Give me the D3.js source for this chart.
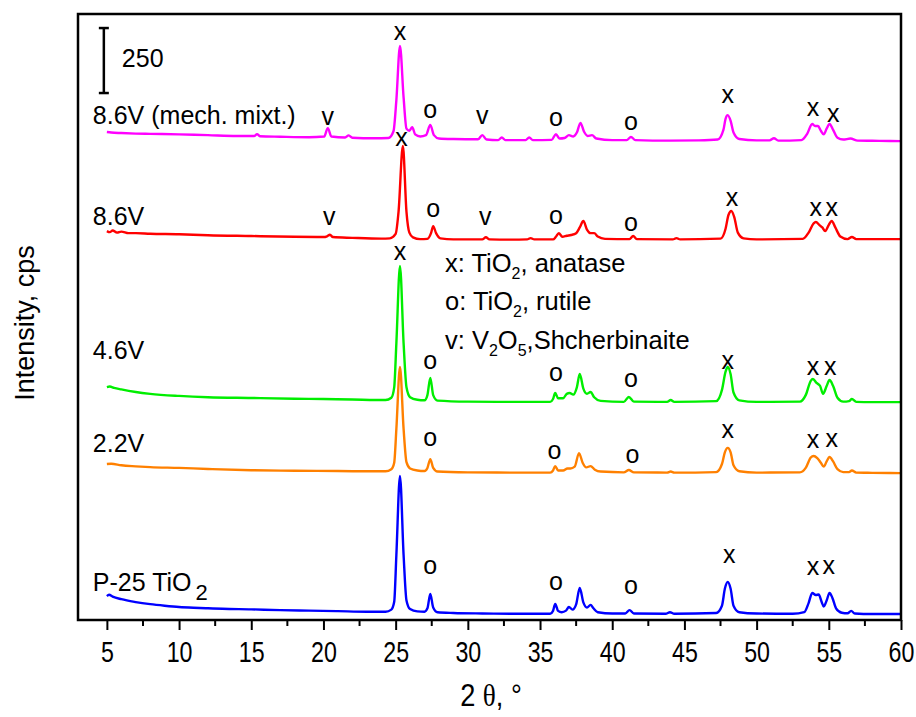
<!DOCTYPE html>
<html>
<head>
<meta charset="utf-8">
<script src="https://cdn.jsdelivr.net/npm/d3@7"></script>
<style>
  body { margin: 0; background: #fff; }
  text { font-family: Arial, "Liberation Sans", sans-serif; fill: #000; }
</style>
</head>
<body>
<div id="chart"></div>
<script>
// XRD patterns, stacked. Each trace: [2theta, intensity above its own offset (cps)]
var sampleNames = ["P-25 TiO", "2.2V", "4.6V", "8.6V", "8.6V (mech. mixt.)"]
var sampleOffsets = [0, 545, 815, 1440, 1820]
// where the sample name sits (cps, absolute)
var sampleNameLevels = [146, 681, 1038, 1554, 1942]

var xTicks = [5, 10, 15, 20, 25, 30, 35, 40, 45, 50, 55, 60]
var xMinorTicks = [7.5, 12.5, 17.5, 22.5, 27.5, 32.5, 37.5, 42.5, 47.5, 52.5, 57.5]

var traceP25 = [[5.0,92],[5.15,97],[5.4,90],[6,80],[7,69],[8,61],[9,55],[10,50],[11,47],[12,45],[13,43],[15,41],[17,38],[19,36],[21,34],[23,32],[24.3,32],[24.7,40],[24.9,70],[25.05,250],[25.3,554],[25.55,250],[25.75,75],[26,42],[26.5,33],[27.0,32],[27.2,45],[27.4,100],[27.6,48],[27.9,30],[29,27],[31,25],[33,24],[35.7,24],[35.9,35],[36.05,62],[36.25,35],[36.5,30],[36.8,36],[37.0,50],[37.25,40],[37.5,60],[37.75,123],[38.0,68],[38.25,48],[38.5,58],[38.7,45],[39.0,30],[40,25],[40.9,25],[41.2,38],[41.5,25],[43.7,24],[44.0,30],[44.3,24],[47.2,27],[47.6,55],[47.8,120],[48.0,146],[48.2,120],[48.4,55],[48.8,30],[50,25],[52.5,24],[53.3,30],[53.6,65],[53.85,104],[54.1,96],[54.3,98],[54.5,70],[54.65,52],[54.85,75],[55.05,104],[55.25,85],[55.5,45],[55.9,28],[56.3,26],[56.55,35],[56.8,25],[58,23],[60,23]]

var trace22V = [[5.0,55],[5.3,56],[6,50],[7,46],[8,43],[10,40],[12,36],[15,31],[18,29],[21,28],[23,27],[24.3,27],[24.7,35],[24.9,60],[25.05,190],[25.3,428],[25.55,190],[25.75,62],[26,38],[26.5,30],[27.0,28],[27.2,40],[27.4,74],[27.6,40],[27.9,26],[30,23],[33,22],[35.7,22],[35.9,30],[36.05,47],[36.25,30],[36.6,30],[36.9,38],[37.1,38],[37.4,45],[37.7,97],[37.95,60],[38.2,42],[38.5,47],[38.8,33],[39.2,26],[40.8,23],[41.15,32],[41.5,23],[43.8,22],[44.05,26],[44.3,22],[47.2,24],[47.6,55],[47.8,100],[48.0,117],[48.2,100],[48.4,50],[48.8,27],[50,22],[53.0,23],[53.4,40],[53.75,80],[53.95,86],[54.2,78],[54.45,60],[54.65,45],[54.85,65],[55.05,82],[55.3,65],[55.6,35],[56.0,24],[56.4,24],[56.6,30],[56.9,22],[58,21],[60,20]]

var trace46V = [[5.0,81],[5.2,83],[5.5,78],[6,72],[7,62],[8,55],[10,47],[12,42],[15,39],[18,36],[20,35],[22,33],[24.3,31],[24.7,40],[24.9,80],[25.05,250],[25.3,547],[25.55,250],[25.75,80],[26,42],[26.5,32],[27.0,30],[27.2,50],[27.4,116],[27.6,50],[27.9,29],[30,25],[33,24],[35.7,24],[35.9,35],[36.05,58],[36.25,38],[36.6,38],[36.85,55],[37.05,58],[37.3,52],[37.55,80],[37.75,131],[38.0,75],[38.25,55],[38.5,62],[38.75,42],[39.2,28],[40.8,24],[41.15,43],[41.5,25],[43.8,24],[44.05,31],[44.3,24],[47.2,27],[47.6,70],[47.85,140],[48.0,158],[48.2,130],[48.4,60],[48.8,30],[50,24],[53.0,25],[53.4,50],[53.75,105],[53.9,112],[54.15,97],[54.4,85],[54.6,55],[54.85,85],[55.05,108],[55.3,85],[55.6,40],[56.0,25],[56.4,27],[56.6,35],[56.9,24],[58,23],[60,23]]

var trace86V = [[5.0,56],[5.2,52],[5.4,58],[5.7,50],[6,54],[6.5,48],[7,48],[8,46],[10,44],[12,40],[15,37],[18,34],[20.0,33],[20.25,36],[20.45,42],[20.65,33],[22,30],[24,27],[24.6,28],[25.0,45],[25.2,130],[25.5,383],[25.75,130],[25.95,50],[26.2,32],[26.7,25],[27.2,26],[27.45,48],[27.6,75],[27.8,48],[28.1,28],[29,24],[31.0,24],[31.25,32],[31.5,24],[33,23],[34.1,24],[34.35,29],[34.6,24],[35.9,24],[36.1,34],[36.3,48],[36.55,34],[36.85,38],[37.15,41],[37.5,48],[37.75,70],[38.0,95],[38.25,62],[38.5,48],[38.75,48],[39.0,35],[39.5,26],[41.2,25],[41.45,37],[41.7,25],[44.2,24],[44.45,29],[44.7,24],[47.5,27],[47.85,65],[48.05,118],[48.25,133],[48.45,110],[48.7,50],[49.1,28],[50,24],[53.2,26],[53.6,50],[53.95,86],[54.1,91],[54.35,79],[54.55,70],[54.75,56],[55.0,80],[55.2,95],[55.45,70],[55.8,35],[56.3,25],[56.6,33],[56.9,25],[58,25],[60,25]]

var trace86Vmix = [[5.0,57],[5.3,55],[6,53],[7,51],[8,50],[10,48],[12,45],[14,42],[15.2,42],[15.4,49],[15.6,41],[17,39],[19,37],[20.05,40],[20.3,72],[20.55,40],[21.5,36],[21.75,44],[22.0,35],[23.5,33],[24.5,34],[24.85,60],[25.05,180],[25.3,388],[25.55,190],[25.75,70],[25.95,62],[26.15,76],[26.35,48],[26.7,40],[27.1,45],[27.4,84],[27.65,45],[28,32],[29,30],[30.7,29],[31.0,45],[31.3,28],[32.1,26],[32.35,36],[32.6,26],[34.0,26],[34.25,36],[34.5,26],[35.8,27],[36.1,49],[36.35,32],[36.7,34],[37.0,45],[37.3,40],[37.55,55],[37.8,92],[38.05,58],[38.3,42],[38.6,45],[38.9,32],[40,26],[41.0,26],[41.3,38],[41.6,26],[44,24],[46,25],[47.3,28],[47.7,65],[47.85,108],[48.0,122],[48.2,100],[48.4,55],[48.8,30],[50,25],[50.9,25],[51.2,33],[51.5,24],[53.1,26],[53.5,50],[53.85,88],[54.05,80],[54.25,80],[54.45,62],[54.65,48],[54.85,70],[55.05,88],[55.3,65],[55.6,35],[56.0,28],[56.5,32],[57,24],[58.5,23],[60,22]]

var traces = [traceP25, trace22V, trace46V, trace86V, trace86Vmix]

// phase marks: [symbol, 2theta, cps (absolute)]
var marksP25 = [["o",27.4,208],["o",36.1,146],["o",41.3,131],["x",48.1,250],["x",53.9,204],["x",55.0,208]]
var marks22V = [["o",27.4,700],["o",36.0,650],["o",41.4,635],["x",48.0,731],["x",53.9,692],["x",55.2,696]]
var marks46V = [["x",25.3,1415],["o",27.4,996],["o",36.1,950],["o",41.3,927],["x",48.0,996],["x",53.9,973],["x",55.1,973]]
var marks86V = [["x",25.4,1854],["v",20.4,1550],["o",27.6,1581],["v",31.2,1550],["o",36.1,1554],["o",41.3,1527],["x",48.3,1623],["x",54.1,1585],["x",55.2,1585]]
var marks86Vmix = [["v",20.3,1935],["x",25.3,2262],["o",27.4,1962],["v",31.0,1938],["o",36.1,1931],["o",41.3,1915],["x",48.0,2019],["x",53.9,1969],["x",55.3,1946]]
var allMarks = [marksP25, marks22V, marks46V, marks86V, marks86Vmix]

// phase key: [symbol, formula parts, name]
var phaseKey = [
  ["x: ", [["Ti", false], ["O", false], ["2", true]], ", anatase"],
  ["o: ", [["Ti", false], ["O", false], ["2", true]], ", rutile"],
  ["v: ", [["V", false], ["2", true], ["O", false], ["5", true]], ",Shcherbinaite"]
]

var scaleBarValue = 250

;(function() {
  var width = 916, height = 717
  var plotLeft = 78, plotRight = 901, plotTop = 14, plotBottom = 620

  var svg = d3.select("#chart")
    .append("svg")
    .attr("width", width)
    .attr("height", height)

  var xPositionScale = d3.scaleLinear()
    .domain([3, 60])
    .range([plotLeft, plotRight])

  var yPositionScale = d3.scaleLinear()
    .domain([0, 2331])
    .range([plotBottom, plotTop])

  var colorScale = d3.scaleOrdinal()
    .domain(d3.range(5))
    .range(["#0000ff", "#ff8000", "#00ee00", "#ff0000", "#ff00ff"])

  // traces
  traces.forEach(function(trace, i) {
    var line = d3.line()
      .x(function(d) { return xPositionScale(d[0]) })
      .y(function(d) { return yPositionScale(d[1] + sampleOffsets[i]) })
      .curve(d3.curveMonotoneX)

    svg.append("path")
      .datum(trace)
      .attr("d", line)
      .attr("fill", "none")
      .attr("stroke", colorScale(i))
      .attr("stroke-width", 2.4)
      .attr("stroke-linejoin", "round")
  })

  // phase marks above the peaks
  allMarks.forEach(function(marks) {
    svg.selectAll(null)
      .data(marks)
      .enter().append("text")
      .attr("x", function(d) { return xPositionScale(d[1]) })
      .attr("y", function(d) { return yPositionScale(d[2]) })
      .attr("dy", "0.33em")
      .attr("text-anchor", "middle")
      .attr("font-size", 25)
      .text(function(d) { return d[0] })
  })

  // sample names
  sampleNames.forEach(function(name, i) {
    var label = svg.append("text")
      .attr("x", xPositionScale(4.03))
      .attr("y", yPositionScale(sampleNameLevels[i]))
      .attr("dy", "0.36em")
      .attr("font-size", 25)
      .text(name)
    if (i === 0) {
      label.append("tspan")
        .attr("dx", 4)
        .attr("dy", 9)
        .attr("font-size", 22)
        .text("2")
    }
  })

  // phase key
  var keyLevels = [1372, 1229, 1077]
  phaseKey.forEach(function(row, i) {
    var t = svg.append("text")
      .attr("x", 445)
      .attr("y", yPositionScale(keyLevels[i]))
      .attr("dy", "0.36em")
      .attr("font-size", 25.5)
    t.append("tspan").text(row[0])
    var shifted = false
    row[1].forEach(function(part) {
      var sp = t.append("tspan").text(part[0])
      if (part[1] && !shifted) {
        sp.attr("dy", 7).attr("font-size", 16)
        shifted = true
      } else if (!part[1] && shifted) {
        sp.attr("dy", -7)
        shifted = false
      } else if (part[1]) {
        sp.attr("font-size", 16)
      }
    })
    var tail = t.append("tspan").text(row[2])
    if (shifted) tail.attr("dy", -7)
  })

  // scale bar, 250 cps
  var barTop = 2277
  var barX = xPositionScale(4.79)
  var bar = svg.append("g")
  bar.append("line")
    .attr("x1", barX).attr("x2", barX)
    .attr("y1", yPositionScale(barTop)).attr("y2", yPositionScale(barTop - scaleBarValue))
    .attr("stroke", "#000").attr("stroke-width", 2.5)
  ;[barTop, barTop - scaleBarValue].forEach(function(v) {
    bar.append("line")
      .attr("x1", barX - 5).attr("x2", barX + 5)
      .attr("y1", yPositionScale(v)).attr("y2", yPositionScale(v))
      .attr("stroke", "#000").attr("stroke-width", 2.5)
  })
  bar.append("text")
    .attr("x", barX + 18)
    .attr("y", yPositionScale(barTop - scaleBarValue / 2) - 3)
    .attr("dy", "0.36em")
    .attr("font-size", 25)
    .text(String(scaleBarValue))

  // x axis, major and minor ticks
  var xAxis = d3.axisBottom(xPositionScale)
    .tickValues(xTicks)
    .tickSize(10)
    .tickPadding(10)
    .tickFormat(d3.format("d"))

  var axisG = svg.append("g")
    .attr("transform", "translate(0," + plotBottom + ")")
    .call(xAxis)
  axisG.select(".domain").remove()
  axisG.selectAll(".tick line").attr("stroke-width", 2)
  // narrow-looking tick labels: squeeze horizontally
  axisG.selectAll(".tick text")
    .attr("font-size", 29)
    .attr("fill", "#000")
    .attr("y", 0)
    .attr("dy", 0)
    .attr("transform", "translate(0,42) scale(0.8,1)")
    .style("font-family", "Arial, 'Liberation Sans', sans-serif")

  svg.append("g")
    .selectAll("line")
    .data(xMinorTicks)
    .enter().append("line")
    .attr("x1", function(d) { return xPositionScale(d) })
    .attr("x2", function(d) { return xPositionScale(d) })
    .attr("y1", plotBottom)
    .attr("y2", plotBottom + 6)
    .attr("stroke", "#000")
    .attr("stroke-width", 2)

  // frame
  svg.append("rect")
    .attr("x", plotLeft)
    .attr("y", plotTop)
    .attr("width", plotRight - plotLeft)
    .attr("height", plotBottom - plotTop)
    .attr("fill", "none")
    .attr("stroke", "#000")
    .attr("stroke-width", 2.5)

  // axis titles
  var xTitle = svg.append("text")
    .attr("transform", "translate(491,706) scale(0.85,1)")
    .attr("text-anchor", "middle")
    .attr("font-size", 32)
  xTitle.append("tspan").text("2 ")
  xTitle.append("tspan").style("font-family", "'Liberation Serif', 'DejaVu Serif', serif").text("θ")
  xTitle.append("tspan").text(", °")

  svg.append("text")
    .attr("transform", "translate(34," + 323 + ") rotate(-90)")
    .attr("text-anchor", "middle")
    .attr("font-size", 27)
    .text("Intensity, cps")
})();
</script>
</body>
</html>
